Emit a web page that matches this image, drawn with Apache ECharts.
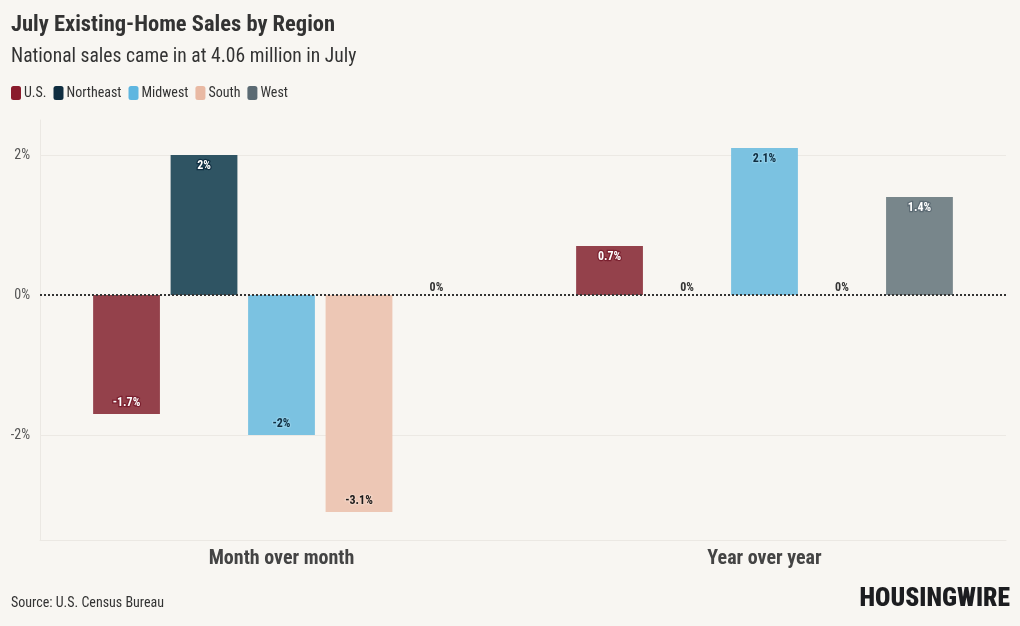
<!DOCTYPE html>
<html>
<head>
<meta charset="utf-8">
<script src="https://cdn.jsdelivr.net/npm/echarts@6/dist/echarts.min.js"></script>
<style>
  html, body { margin: 0; padding: 0; background: #f8f6f2; }
  #chart { width: 1020px; height: 626px; }
</style>
</head>
<body>
<div id="chart"></div>
<script>
  // ——— data ———
  const categories = ['Month over month', 'Year over year'];
  const regions    = ['U.S.', 'Northeast', 'Midwest', 'South', 'West'];
  const usVals        = [-1.7, 0.7];
  const northeastVals = [2, 0];
  const midwestVals   = [-2, 2.1];
  const southVals     = [-3.1, 0];
  const westVals      = [0, 1.4];
  const yTicks = [-2, 0, 2];

  const FONT = "'Roboto Condensed', 'Liberation Sans Narrow', 'Roboto', sans-serif";

  // legend colour, bar colour, label colour, label halo
  const styles = [
    { legend: '#8a1b2c', bar: '#94414b', label: '#fff',    halo: '#7a1f2e' },
    { legend: '#0f2d40', bar: '#2f5463', label: '#fff',    halo: '#0f2d40' },
    { legend: '#5eb6e0', bar: '#7bc2e1', label: '#0f2d40', halo: '#8fcde8' },
    { legend: '#e9b9a3', bar: '#edc7b5', label: '#1a1a1a', halo: '#f2d3c4' },
    { legend: '#5b6a73', bar: '#78868b', label: '#fff',    halo: '#5b6a73' }
  ];
  const allVals = [usVals, northeastVals, midwestVals, southVals, westVals];

  const series = regions.map((name, i) => ({
    name,
    type: 'bar',
    z: 3,
    barGap: '16%',
    barCategoryGap: '22%',
    itemStyle: { color: styles[i].bar },
    data: allVals[i].map(v => ({
      value: v,
      label: v === 0
        ? { position: 'top', distance: 1, color: '#333', textBorderWidth: 0 }
        : { position: v > 0 ? 'insideTop' : 'insideBottom', distance: 5 }
    })),
    label: {
      show: true,
      fontFamily: FONT,
      fontSize: 12,
      fontWeight: 'bold',
      color: styles[i].label,
      textBorderColor: styles[i].halo,
      textBorderWidth: 2.5,
      formatter: p => p.value + '%'
    },
    markLine: i === 0 ? {
      silent: true,
      symbol: 'none',
      z: 6,
      label: { show: false },
      data: [{ yAxis: 0, lineStyle: { color: '#333', type: [2, 2], width: 2 } }]
    } : undefined
  }));

  // light grid lines behind the bars
  series.push({
    type: 'line',
    z: 1,
    data: [],
    markLine: {
      silent: true,
      symbol: 'none',
      z: 1,
      label: { show: false },
      lineStyle: { color: '#ece9e4', type: 'solid', width: 1 },
      data: yTicks.filter(v => v !== 0).map(v => ({ yAxis: v }))
    }
  });

  const chart = echarts.init(document.getElementById('chart'));
  chart.setOption({
    backgroundColor: '#f8f6f2',
    animation: false,
    textStyle: { fontFamily: FONT },
    title: [
      { text: 'July Existing-Home Sales by Region', left: 6, top: 9,
        textStyle: { fontFamily: FONT, fontSize: 22.5, fontWeight: 'bold', color: '#333' } },
      { text: 'National sales came in at 4.06 million in July', left: 6, top: 42,
        textStyle: { fontFamily: FONT, fontSize: 19.6, fontWeight: 'normal', color: '#333' } },
      { text: 'Source: U.S. Census Bureau', left: 6, top: 591,
        textStyle: { fontFamily: FONT, fontSize: 14, fontWeight: 'normal', color: '#333' } },
      { text: 'HOUSINGWIRE', right: 5, top: 582,
        textStyle: { fontFamily: FONT, fontSize: 25.5, fontWeight: 900, color: '#1c1d20' } }
    ],
    legend: {
      left: 6, top: 81,
      icon: 'roundRect',
      itemWidth: 10, itemHeight: 14, itemGap: 7,
      textStyle: { fontFamily: FONT, fontSize: 14, color: '#333', padding: [0, 0, 0, -2] },
      data: regions.map((name, i) => ({ name, itemStyle: { color: styles[i].legend, opacity: 1 } }))
    },
    grid: { left: 40, right: 14, top: 120, bottom: 86 },
    xAxis: {
      type: 'category',
      data: categories,
      axisLine: { onZero: false, lineStyle: { color: '#ebe8e3' } },
      axisTick: { show: false },
      axisLabel: { fontFamily: FONT, fontSize: 20, fontWeight: 'bold', color: '#444', margin: 9 }
    },
    yAxis: {
      type: 'value',
      min: -3.5, max: 2.5, interval: 0.5,
      axisLine: { show: true, lineStyle: { color: '#ebe8e3' } },
      axisTick: { show: false },
      splitLine: { show: false },
      axisLabel: {
        fontFamily: FONT, fontSize: 14, color: '#555', margin: 10,
        formatter: v => yTicks.includes(v) ? v + '%' : ''
      }
    },
    series
  });
</script>
</body>
</html>
